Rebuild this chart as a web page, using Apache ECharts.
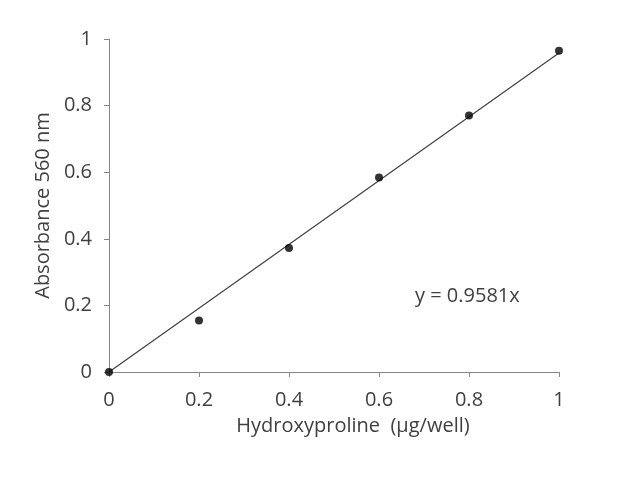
<!DOCTYPE html>
<html>
<head>
<meta charset="utf-8">
<script src="https://cdn.jsdelivr.net/npm/echarts@6/dist/echarts.min.js"></script>
<style>html,body{margin:0;padding:0;background:#fff}#c{width:640px;height:479px}</style>
</head>
<body>
<div id="c"></div>
<script>
var xValues = [0, 0.2, 0.4, 0.6, 0.8, 1];
var absorbance = [0, 0.155, 0.372, 0.584, 0.770, 0.965];
var slope = 0.9581;
var trendX = [0, 1];
var xTicks = [0, 0.2, 0.4, 0.6, 0.8, 1];
var yTicks = [0, 0.2, 0.4, 0.6, 0.8, 1];
var equationText = 'y = 0.9581x';
var xTitle = 'Hydroxyproline  (\u00b5g/well)';
var yTitle = 'Absorbance 560 nm';

var font = '"Open Sans", sans-serif';
var chart = echarts.init(document.getElementById('c'));
chart.setOption({
  animation: false,
  backgroundColor: '#fff',
  grid: {left: 109, right: 81, top: 39, bottom: 107},
  xAxis: {
    type: 'value', min: 0, max: 1, interval: 0.2,
    name: xTitle, nameLocation: 'middle', nameGap: 44,
    nameTextStyle: {fontFamily: font, fontSize: 20, color: '#404040', padding: [0, 0, 0, 38]},
    axisLine: {lineStyle: {color: '#868686', width: 1}},
    axisTick: {show: true, inside: false, length: 5, lineStyle: {color: '#868686'}},
    axisLabel: {fontFamily: font, fontSize: 20, color: '#404040', margin: 18,
      formatter: function (v) { return String(Math.round(v * 10) / 10); }},
    splitLine: {show: false}
  },
  yAxis: {
    type: 'value', min: 0, max: 1, interval: 0.2,
    name: yTitle, nameLocation: 'middle', nameGap: 54, nameRotate: 90,
    nameTextStyle: {fontFamily: font, fontSize: 20, color: '#404040'},
    axisLine: {show: true, lineStyle: {color: '#868686', width: 1}},
    axisTick: {show: true, inside: false, length: 5, lineStyle: {color: '#868686'}},
    axisLabel: {fontFamily: font, fontSize: 20, color: '#404040', margin: 17,
      formatter: function (v) { return String(Math.round(v * 10) / 10); }},
    splitLine: {show: false}
  },
  series: [
    {
      type: 'line',
      data: trendX.map(function (x) { return [x, slope * x]; }),
      symbol: 'none',
      lineStyle: {color: '#404040', width: 1.2},
      z: 2
    },
    {
      type: 'scatter',
      data: xValues.map(function (x, i) { return [x, absorbance[i]]; }),
      symbol: 'circle', symbolSize: 8,
      itemStyle: {color: '#000'},
      z: 3
    }
  ],
  graphic: [{
    type: 'text', left: 415, top: 286,
    style: {text: equationText, fontFamily: font, fontSize: 20, fill: '#404040'}
  }]
});
</script>
</body>
</html>
